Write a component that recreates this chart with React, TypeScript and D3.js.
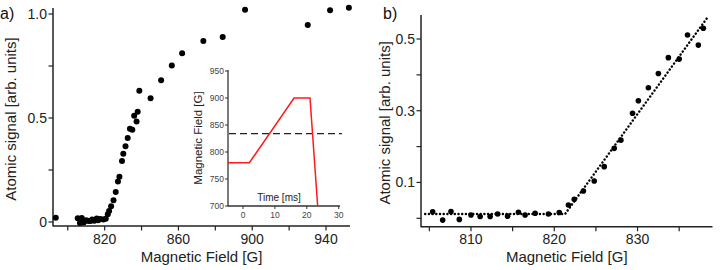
import * as d3 from 'd3';
import { useEffect, useRef } from 'react';

// low-field scan (shown in both panels)
const fieldScan = [805.4, 806.6, 807.6, 808.6, 810.0, 811.1, 812.3, 813.2, 814.4, 815.7, 816.5, 817.7, 819.3, 820.6, 821.7, 822.4, 823.5, 824.8, 826.0, 827.2, 828.0, 829.4, 830.1, 831.3, 832.5, 833.7, 835.0, 836.0, 837.3, 837.9];
const signalScan = [0.018, -0.005, 0.019, -0.003, 0.009, 0.005, 0.005, 0.012, 0.006, 0.017, 0.009, 0.014, 0.012, 0.016, 0.037, 0.053, 0.076, 0.104, 0.144, 0.195, 0.218, 0.293, 0.328, 0.364, 0.404, 0.448, 0.444, 0.511, 0.483, 0.530];

// extra points only in panel a
const fieldWide = [793.5, 838.8, 844.9, 850.6, 856.4, 862.0, 873.5, 884.0, 896.1, 930.1, 942.2, 952.4];
const signalWide = [0.02, 0.631, 0.595, 0.681, 0.753, 0.811, 0.87, 0.889, 1.02, 0.947, 1.018, 1.03];

// linear fit in panel b
const fitField = [804.5, 821.3, 838.3];
const fitSignal = [0.012, 0.012, 0.557];

// inset: field ramp vs time
const rampTime = [-4.7, 2, 16, 21, 23.4];
const rampField = [780, 780, 900, 900, 700];
const resonanceField = 834;

const ticksAMajor = [820, 860, 900, 940];
const ticksAMinor = [800, 840, 880, 920];
const yTicksA = [0, 0.5, 1.0];
const yTicksALabels = ['0', '0.5', '1.0'];
const yTicksAMinor = [0.25, 0.75];
const ticksBMajor = [810, 820, 830];
const ticksBMinor = [805, 815, 825, 835];
const yTicksB = [0.1, 0.3, 0.5];
const yTicksBMinor = [0.0, 0.2, 0.4];
const insetXTicks = [0, 10, 20, 30];
const insetYTicks = [700, 750, 800, 850, 900, 950];

const FONT = "'Liberation Sans', Arial, Helvetica, sans-serif";

function App() {
  const svgRef = useRef(null);

  useEffect(() => {
    const svg = d3.select(svgRef.current);
    svg.selectAll('*').remove();
    svg.style('font-family', FONT);

    const axisColor = '#222';

    const drawPanel = (opt) => {
      const { x, y, xMajor, xMinor, yMajor, yLabels, yMinor, yTop, xBase, title, titleX, ylabX } = opt;
      const g = svg.append('g');
      const x0 = x.range()[0], x1 = x.range()[1];
      // axis lines
      g.append('line').attr('x1', x0).attr('x2', x0).attr('y1', yTop).attr('y2', xBase + 0.5)
        .attr('stroke', axisColor).attr('stroke-width', 1.5);
      g.append('line').attr('x1', x0).attr('x2', x1).attr('y1', xBase).attr('y2', xBase)
        .attr('stroke', axisColor).attr('stroke-width', 1.5);
      [...xMajor, ...xMinor].forEach(v => {
        g.append('line').attr('x1', x(v)).attr('x2', x(v)).attr('y1', xBase).attr('y2', xBase + 4.5)
          .attr('stroke', axisColor).attr('stroke-width', 1.2);
      });
      xMajor.forEach(v => {
        g.append('text').attr('x', x(v)).attr('y', xBase + 17.5).attr('text-anchor', 'middle')
          .attr('font-size', 14).attr('fill', '#222').text(String(v));
      });
      [...yMajor, ...yMinor].forEach(v => {
        g.append('line').attr('x1', x0 - 4.5).attr('x2', x0).attr('y1', y(v)).attr('y2', y(v))
          .attr('stroke', axisColor).attr('stroke-width', 1.2);
      });
      yMajor.forEach((v, i) => {
        g.append('text').attr('x', x0 - 6).attr('y', y(v)).attr('dy', '0.36em').attr('text-anchor', 'end')
          .attr('font-size', 14).attr('fill', '#222').text(yLabels[i]);
      });
      g.append('text').attr('x', (x0 + x1) / 2).attr('y', 262).attr('text-anchor', 'middle')
        .attr('font-size', 15).attr('fill', '#222').text('Magnetic Field [G]');
      g.append('text').attr('transform', `translate(${ylabX},${(yTop + xBase) / 2 + 2}) rotate(-90)`)
        .attr('text-anchor', 'middle').attr('font-size', 15).attr('fill', '#222')
        .text('Atomic signal [arb. units]');
      g.append('text').attr('x', titleX).attr('y', 19).attr('font-size', 16).attr('fill', '#111').text(title);
      return g;
    };

    // ---- panel a ----
    const xA = d3.scaleLinear().domain([792, 953]).range([53, 350]);
    const yA = d3.scaleLinear().domain([0, 1]).range([222, 14]);
    const gA = drawPanel({
      x: xA, y: yA, xMajor: ticksAMajor, xMinor: ticksAMinor,
      yMajor: yTicksA, yLabels: yTicksALabels, yMinor: yTicksAMinor,
      yTop: 8, xBase: 226, title: 'a)', titleX: 0, ylabX: 16,
    });

    // inset
    const xI = d3.scaleLinear().domain([-4.7, 30.4]).range([228, 340]);
    const yI = d3.scaleLinear().domain([700, 950]).range([206, 71]);
    const gI = svg.append('g');
    gI.append('line').attr('x1', 228).attr('x2', 228).attr('y1', yI(950) - 1).attr('y2', 206.5)
      .attr('stroke', '#333').attr('stroke-width', 1.3);
    gI.append('line').attr('x1', 228).attr('x2', 340).attr('y1', 206).attr('y2', 206)
      .attr('stroke', '#333').attr('stroke-width', 1.3);
    insetXTicks.forEach(v => {
      gI.append('line').attr('x1', xI(v)).attr('x2', xI(v)).attr('y1', 206).attr('y2', 209)
        .attr('stroke', '#333').attr('stroke-width', 1);
      gI.append('text').attr('x', xI(v)).attr('y', 218).attr('text-anchor', 'middle')
        .attr('font-size', 8.5).attr('fill', '#444').text(String(v));
    });
    insetYTicks.forEach(v => {
      gI.append('line').attr('x1', 225).attr('x2', 228).attr('y1', yI(v)).attr('y2', yI(v))
        .attr('stroke', '#333').attr('stroke-width', 1);
      gI.append('text').attr('x', 224).attr('y', yI(v)).attr('dy', '0.35em').attr('text-anchor', 'end')
        .attr('font-size', 8.5).attr('fill', '#444').text(String(v));
    });
    gI.append('text').attr('transform', `translate(201.5,138) rotate(-90)`).attr('text-anchor', 'middle')
      .attr('font-size', 11.5).attr('fill', '#222').text('Magnetic Field [G]');
    gI.append('text').attr('x', 279).attr('y', 201).attr('text-anchor', 'middle')
      .attr('font-size', 10).attr('fill', '#222').text('Time [ms]');
    gI.append('line').attr('x1', 229).attr('x2', xI(31)).attr('y1', yI(resonanceField)).attr('y2', yI(resonanceField))
      .attr('stroke', '#222').attr('stroke-width', 1.4).attr('stroke-dasharray', '7 4');
    const ramp = rampTime.map((t, i) => [t, rampField[i]]);
    gI.append('path').datum(ramp)
      .attr('d', d3.line().x(d => xI(d[0])).y(d => yI(d[1])))
      .attr('fill', 'none').attr('stroke', '#ff1a1a').attr('stroke-width', 1.5);

    const ptsA = [...fieldScan.map((f, i) => [f, signalScan[i]]), ...fieldWide.map((f, i) => [f, signalWide[i]])];
    gA.selectAll('circle.pt').data(ptsA).join('circle')
      .attr('cx', d => xA(d[0])).attr('cy', d => yA(d[1])).attr('r', 3).attr('fill', '#000');

    // ---- panel b ----
    const xB = d3.scaleLinear().domain([804, 839]).range([421, 712.5]);
    const yB = d3.scaleLinear().domain([0, 0.5]).range([218.3, 39]);
    const gB = drawPanel({
      x: xB, y: yB, xMajor: ticksBMajor, xMinor: ticksBMinor,
      yMajor: yTicksB, yLabels: yTicksB.map(v => v.toFixed(1)), yMinor: yTicksBMinor,
      yTop: 15, xBase: 226.7, title: 'b)', titleX: 383, ylabX: 390,
    });
    const fit = fitField.map((f, i) => [f, fitSignal[i]]);
    gB.append('path').datum(fit)
      .attr('d', d3.line().x(d => xB(d[0])).y(d => yB(d[1])))
      .attr('fill', 'none').attr('stroke', '#000').attr('stroke-width', 2.4)
      .attr('stroke-linecap', 'round').attr('stroke-dasharray', '0.1 3.6');
    const ptsB = fieldScan.map((f, i) => [f, signalScan[i]]);
    gB.selectAll('circle.pt').data(ptsB).join('circle')
      .attr('cx', d => xB(d[0])).attr('cy', d => yB(d[1])).attr('r', 2.8).attr('fill', '#000');
  }, []);

  return (
    <svg ref={svgRef} width={720} height={270}
      style={{ position: 'absolute', left: 0, top: 0, display: 'block', background: '#fff' }} />
  );
}

export default App;
